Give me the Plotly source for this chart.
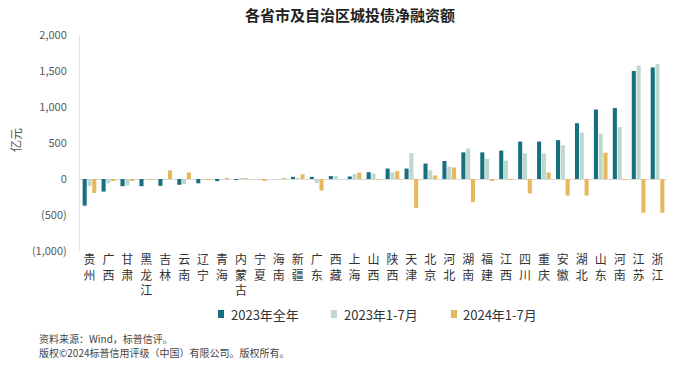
import plotly.graph_objects as go

categories = ['贵州','广西','甘肃','黑龙江','吉林','云南','辽宁','青海','内蒙古','宁夏','海南',
              '新疆','广东','西藏','上海','山西','陕西','天津','北京','河北','湖南','福建',
              '江西','四川','重庆','安徽','湖北','山东','河南','江苏','浙江']
full_2023 = [-370,-175,-100,-100,-95,-80,-60,-30,-5,0,0,30,30,40,35,95,145,145,215,250,
             370,370,395,520,520,540,775,965,985,1500,1550]
jan_jul_2023 = [-100,-60,-90,-5,0,-70,-5,0,5,-10,0,10,-55,40,70,75,90,360,120,170,
                425,280,255,355,355,470,645,630,720,1575,1595]
jan_jul_2024 = [-195,-25,-15,-5,120,90,-5,5,10,-15,5,65,-160,0,90,-10,110,-400,50,160,
                -320,-20,-10,-200,90,-230,-230,365,-5,-470,-470]
series_names = ['2023年全年', '2023年1-7月', '2024年1-7月']
tick_vals = [-1000, -500, 0, 500, 1000, 1500, 2000]
tick_text = ['(1,000)', '(500)', '0', '500', '1,000', '1,500', '2,000']

colors = ['#16707E', '#BCD8CF', '#E6B85E']
x_text = ['<br>'.join(list(c)) for c in categories]

W, H = 700, 367
L, R, T, B = 80, 33, 35, 116
pw, ph = W - L - R, H - T - B
def px(x):
    return (x - L) / pw
def py(y):
    return (H - B - y) / ph

fig = go.Figure()
for name, vals, col in zip(series_names, [full_2023, jan_jul_2023, jan_jul_2024], colors):
    fig.add_trace(go.Bar(x=categories, y=vals, name=name, showlegend=False,
                         marker=dict(color=col, line=dict(width=0))))

fig.update_layout(
    width=W, height=H,
    margin=dict(l=L, r=R, t=T, b=B, autoexpand=False),
    plot_bgcolor='white', paper_bgcolor='white',
    barmode='group', bargap=0.24, bargroupgap=0.15,
    font=dict(family='Noto Sans CJK SC, Noto Sans, sans-serif', color='#555'),
    title=dict(text='<b>各省市及自治区城投债净融资额</b>', x=0.5, xanchor='center',
               y=(H - 16) / H, yanchor='middle', font=dict(size=15, color='#222')),
    showlegend=False,
    xaxis=dict(tickmode='array', tickvals=categories, ticktext=x_text, showgrid=False, showline=False,
               zeroline=False, ticks='', tickfont=dict(size=12, color='#333'), tickangle=0),
    yaxis=dict(range=[-1000, 2000], tickvals=tick_vals, ticktext=tick_text, showgrid=False,
               showline=True, linecolor='#E4E4E4', linewidth=1, zeroline=True, zerolinecolor='#D9D9D9',
               zerolinewidth=1, ticks='', ticklabelstandoff=10, tickfont=dict(size=11, color='#595959')),
)

# legend (drawn manually to match the compact swatch style)
leg_items = [(218, 229), (331, 342), (451, 461)]
for (mx, tx), name, col in zip(leg_items, series_names, colors):
    fig.add_shape(type='rect', xref='paper', yref='paper', x0=px(mx), x1=px(mx + 6),
                  y0=py(318), y1=py(310), fillcolor=col, line=dict(width=0))
    fig.add_annotation(text=name, xref='paper', yref='paper', x=px(tx), y=py(314), xanchor='left',
                       yanchor='middle', showarrow=False, font=dict(size=13, color='#333'))

fig.add_annotation(text='亿元', xref='paper', yref='paper', x=px(15), y=py(140), textangle=-90,
                   xanchor='center', yanchor='middle',
                   showarrow=False, font=dict(size=12, color='#555'))
fig.add_annotation(text='资料来源：Wind，标普信评。', xref='paper', yref='paper', x=px(37), y=py(338),
                   xanchor='left', yanchor='middle', showarrow=False, font=dict(size=10, color='#444'))
fig.add_annotation(text='版权©2024标普信用评级（中国）有限公司。版权所有。', xref='paper', yref='paper',
                   x=px(37), y=py(352), xanchor='left', yanchor='middle', showarrow=False,
                   font=dict(size=10, color='#444'))

fig.write_html('out.html', config={'displayModeBar': False},
               post_script="document.body.style.margin='0';")
